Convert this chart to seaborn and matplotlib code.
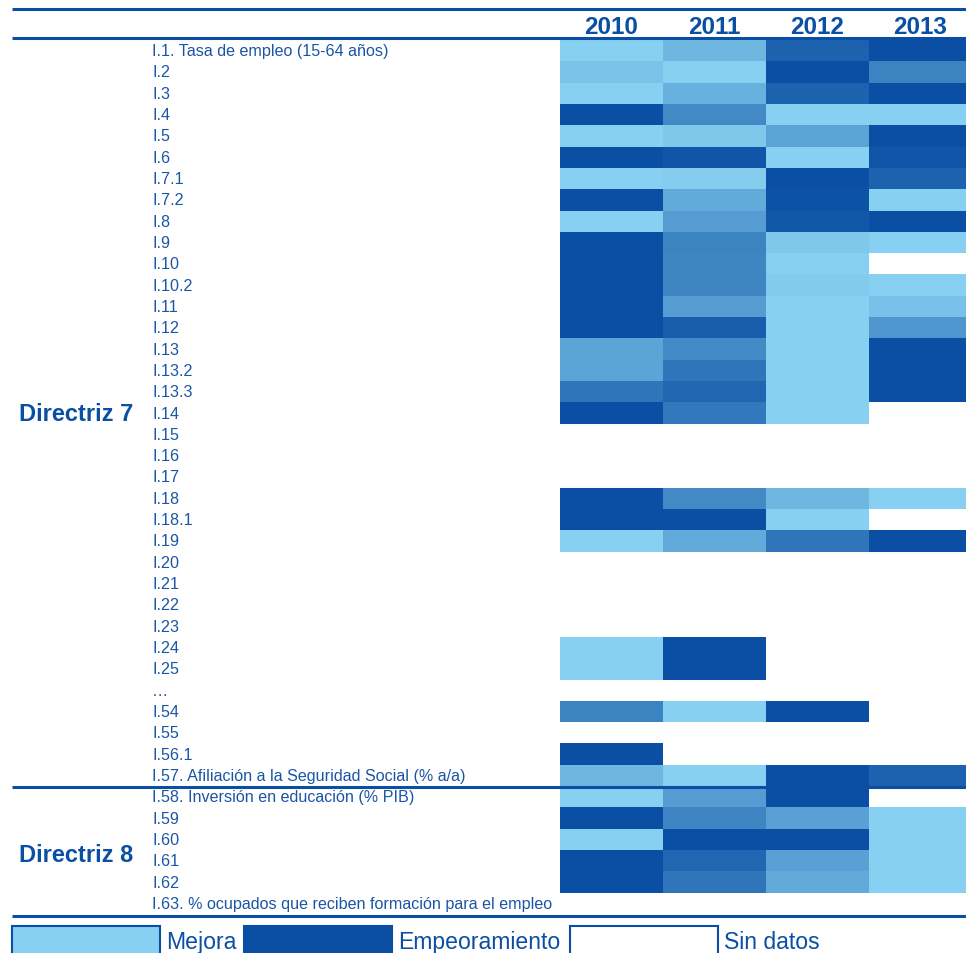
import numpy as np
import pandas as pd
import seaborn as sns
import matplotlib.pyplot as plt
from matplotlib.colors import LinearSegmentedColormap
from matplotlib.patches import Rectangle
from matplotlib.transforms import blended_transform_factory

# datos: 0 = mejora (claro), 1 = empeoramiento (oscuro), None = sin datos
years = ["2010", "2011", "2012", "2013"]
indicators = [
    "I.1. Tasa de empleo (15-64 años)", "I.2", "I.3", "I.4", "I.5", "I.6",
    "I.7.1", "I.7.2", "I.8", "I.9", "I.10", "I.10.2", "I.11", "I.12",
    "I.13", "I.13.2", "I.13.3", "I.14", "I.15", "I.16", "I.17", "I.18",
    "I.18.1", "I.19", "I.20", "I.21", "I.22", "I.23", "I.24", "I.25",
    "…", "I.54", "I.55", "I.56.1",
    "I.57. Afiliación a la Seguridad Social (% a/a)",
    "I.58. Inversión en educación (% PIB)", "I.59", "I.60", "I.61", "I.62",
    "I.63. % ocupados que reciben formación para el empleo",
]
v2010 = [0, 0.1, 0, 1, 0, 1, 0, 1, 0, 1, 1, 1, 1, 1, 0.35, 0.35, 0.7, 1,
         None, None, None, 1, 1, 0, None, None, None, None, 0, 0,
         None, 0.6, None, 1, 0.2,
         0, 1, 0, 1, 1, None]
v2011 = [0.2, 0, 0.25, 0.55, 0.07, 0.95, 0.03, 0.3, 0.4, 0.6, 0.58, 0.58,
         0.4, 0.88, 0.55, 0.7, 0.82, 0.68,
         None, None, None, 0.55, 1, 0.3, None, None, None, None, 1, 1,
         None, 0, None, None, 0,
         0.4, 0.58, 1, 0.82, 0.7, None]
v2012 = [0.85, 1, 0.85, 0, 0.35, 0, 1, 0.98, 0.93, 0.07, 0.01, 0.04,
         0, 0, 0, 0, 0, 0,
         None, None, None, 0.2, 0, 0.7, None, None, None, None, None, None,
         None, 1, None, None, 1,
         1, 0.37, 1, 0.37, 0.3, None]
v2013 = [1, 0.6, 1, 0, 1, 0.95, 0.85, 0, 1, 0, None, 0, 0.12, 0.45,
         1, 1, 1, None,
         None, None, None, 0, None, 1, None, None, None, None, None, None,
         None, None, None, None, 0.85,
         None, 0, 0, 0, 0, None]

light = "#88D0F1"
dark = "#0A4FA3"
txt = "#1A55A6"

df = pd.DataFrame({"2010": v2010, "2011": v2011, "2012": v2012, "2013": v2013},
                  index=indicators).astype(float)
cmap = LinearSegmentedColormap.from_list("azules", [light, dark])

W, H = 966, 954
fig = plt.figure(figsize=(W / 100, H / 100), dpi=100)
plt.rcParams["font.family"] = ["Liberation Sans", "DejaVu Sans"]

# heatmap (x 560..972 px, y 41..915 px)
ax = fig.add_axes([560 / W, 1 - 915 / H, 412 / W, 874 / H])
sns.heatmap(df, ax=ax, cmap=cmap, vmin=0, vmax=1, cbar=False,
            xticklabels=False, yticklabels=False)
ax.set_xlabel("")
ax.set_ylabel("")

trans = blended_transform_factory(fig.transFigure, ax.transData)
for i, name in enumerate(indicators):
    ax.text(152 / W, i + 0.5, name, transform=trans, ha="left", va="center",
            fontsize=11.6, color=txt, clip_on=False)

trans_x = blended_transform_factory(ax.transData, fig.transFigure)
for j, y in enumerate(years):
    ax.text(j + 0.5, 1 - 27 / H, y, transform=trans_x, ha="center", va="center",
            fontsize=17.5, fontweight="bold", color=dark, clip_on=False)

# capa superior en pixeles para lineas, titulos de grupo y leyenda
ov = fig.add_axes([0, 0, 1, 1])
ov.set_xlim(0, W)
ov.set_ylim(H, 0)
ov.axis("off")
ov.patch.set_alpha(0)

for yy in [10, 39, 788, 917]:
    ov.plot([12, W], [yy, yy], color=dark, lw=2.2, solid_capstyle="butt")

ov.text(76, 415, "Directriz 7", ha="center", va="center", fontsize=17,
        fontweight="bold", color=dark)
ov.text(76, 856, "Directriz 8", ha="center", va="center", fontsize=17,
        fontweight="bold", color=dark)

legend_items = [(12, light, "Mejora"), (244, dark, "Empeoramiento"),
                (570, "white", "Sin datos")]
for x0, fc, lab in legend_items:
    ov.add_patch(Rectangle((x0, 927), 148, 40, facecolor=fc, edgecolor=dark,
                           lw=1.5))
    ov.text(x0 + 154, 943, lab, ha="left", va="center", fontsize=16.6,
            color=dark)

plt.savefig("out.png", dpi=100)
